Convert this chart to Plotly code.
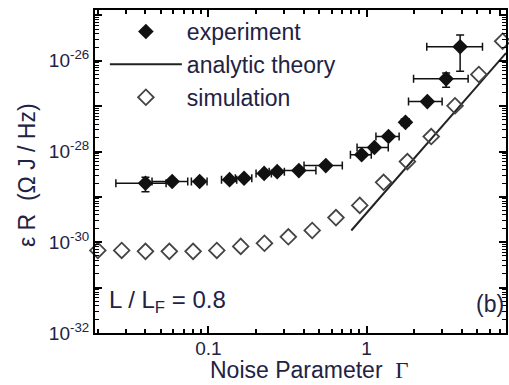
import plotly.graph_objects as go

# ---------------- data ----------------
exp_gamma = [0.040, 0.059, 0.088, 0.136, 0.168, 0.225, 0.272, 0.373, 0.552,
             0.93, 1.12, 1.375, 1.76, 2.42, 3.18, 3.90]
exp_er = [2.0e-29, 2.19e-29, 2.19e-29, 2.4e-29, 2.57e-29, 3.3e-29, 3.6e-29,
          3.8e-29, 4.9e-29, 8.5e-29, 1.23e-28, 2.14e-28, 4.4e-28, 1.26e-27,
          4.0e-27, 2.04e-26]
exp_xerr = [0.014, 0.015, 0.01, 0.015, 0.02, 0.025, 0.03, 0.105, 0.15, 0.14,
            0.25, 0.23, 0.1, 0.58, 1.2, 1.5]
exp_yerr_plus = [0.7e-29, 0, 0, 0, 0, 0, 0, 0, 0, 0, 0, 0, 0, 0, 1.4e-27, 1.65e-26]
exp_yerr_minus = [0.7e-29, 0, 0, 0, 0, 0, 0, 0, 0, 0, 0, 0, 0, 0, 1.4e-27, 1.45e-26]

theory_gamma = [0.8, 7.6]
theory_er = [1.82e-30, 1.48e-26]

sim_gamma = [0.02, 0.0283, 0.04, 0.0566, 0.08, 0.113, 0.16, 0.226, 0.32, 0.453,
             0.64, 0.905, 1.28, 1.81, 2.56, 3.62, 5.12, 7.24]
sim_er = [6.6e-31, 6.6e-31, 6.3e-31, 6.3e-31, 6.3e-31, 6.6e-31, 8.1e-31, 9.5e-31,
          1.32e-30, 1.82e-30, 3.5e-30, 6.5e-30, 2.1e-29, 6.0e-29, 2.14e-28,
          1.02e-27, 5.0e-27, 2.7e-26]

x_tickvals = [0.1, 1]
x_ticktext = ["0.1", "1"]
y_decades = list(range(-32, -24))
y_tickvals = [10.0 ** e for e in y_decades]
y_ticktext = [("10<sup>%d</sup>" % e) if e % 2 == 0 else "" for e in y_decades]

FONT = "Liberation Sans, Arial, Helvetica, sans-serif"
TXT = "#222244"

fig = go.Figure()

fig.add_trace(go.Scatter(
    x=exp_gamma, y=exp_er, mode="markers", name="experiment",
    marker=dict(symbol="diamond", size=12, color="#111111"),
    error_x=dict(type="data", array=exp_xerr, color="#111111", thickness=1.5, width=4),
    error_y=dict(type="data", array=exp_yerr_plus, arrayminus=exp_yerr_minus,
                 color="#111111", thickness=1.5, width=4),
    cliponaxis=False,
))
fig.add_trace(go.Scatter(
    x=theory_gamma, y=theory_er, mode="lines", name="analytic theory",
    line=dict(color="#222222", width=2),
))
fig.add_trace(go.Scatter(
    x=sim_gamma, y=sim_er, mode="markers", name="simulation",
    marker=dict(symbol="diamond-open", size=12, color="#444444", line=dict(width=1.8, color="#444444")),
    cliponaxis=False,
))

axis_common = dict(
    showline=True, linecolor="black", linewidth=2, mirror="ticks",
    ticks="inside", tickcolor="black", tickwidth=2, ticklen=7,
    showgrid=False, zeroline=False,
    tickfont=dict(family=FONT, size=19, color=TXT),
)

fig.update_xaxes(
    type="log", range=[-1.717, 0.881],
    tickmode="array", tickvals=x_tickvals, ticktext=x_ticktext,
    minor=dict(ticks="inside", ticklen=4, tickcolor="black", tickwidth=1.5,
               tickvals=[m * 10.0 ** e for e in (-2, -1, 0) for m in range(2, 10)]),
    ticklabelstandoff=-3,
    **axis_common,
)
fig.update_yaxes(
    type="log", range=[-32, -24.88],
    tickmode="array", tickvals=y_tickvals, ticktext=y_ticktext,
    minor=dict(ticks="inside", ticklen=4, tickcolor="black", tickwidth=1.2,
               tickvals=[m * 10.0 ** e for e in y_decades for m in range(2, 10)]),
    **axis_common,
)

# axis titles
fig.add_annotation(xref="paper", yref="paper", x=0.523, y=-0.116, xanchor="center", yanchor="middle",
                   text="Noise Parameter  <span style='font-family:Liberation Serif'>Γ</span>",
                   showarrow=False, font=dict(family=FONT, size=23, color=TXT))
fig.add_annotation(xref="paper", yref="paper", x=-0.167, y=0.49, xanchor="center", yanchor="middle",
                   text="ε R  (Ω J / Hz)", textangle=-90,
                   showarrow=False, font=dict(family=FONT, size=23, color=TXT))

fig.add_annotation(xref="paper", yref="paper", x=0.029, y=0.099, xanchor="left", yanchor="middle",
                   text="L / L<sub>F</sub> = 0.8", showarrow=False,
                   font=dict(family=FONT, size=24, color=TXT))
fig.add_annotation(xref="paper", yref="paper", x=1.0, y=0.09, xanchor="right", yanchor="middle",
                   text="(b)", showarrow=False,
                   font=dict(family=FONT, size=23, color=TXT))

fig.update_layout(
    width=509, height=385,
    margin=dict(l=95, r=1, t=10, b=52),
    paper_bgcolor="white", plot_bgcolor="white",
    showlegend=True,
    legend=dict(x=0.024, y=1.0, xanchor="left", yanchor="top",
                bgcolor="rgba(0,0,0,0)", borderwidth=0, itemwidth=72,
                font=dict(family=FONT, size=23, color=TXT),
                tracegroupgap=0),
    font=dict(family=FONT),
)

fig.write_html("out.html")
